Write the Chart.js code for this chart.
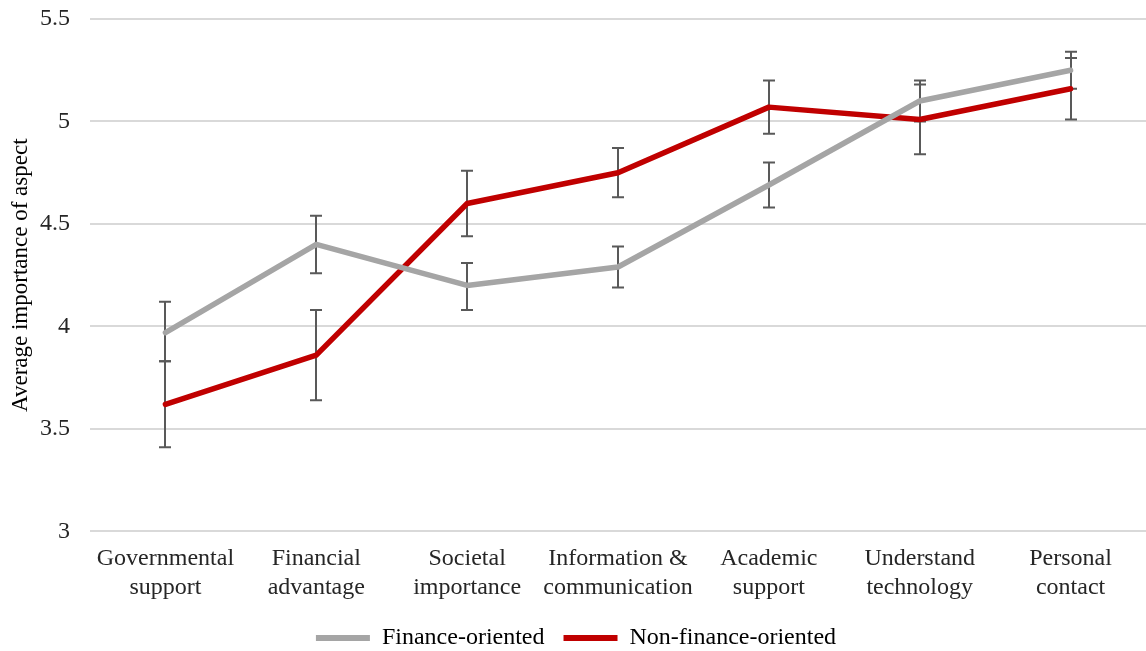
<!DOCTYPE html>
<html>
<head>
<meta charset="utf-8">
<script src="https://cdn.jsdelivr.net/npm/chart.js@4.4.0/dist/chart.umd.min.js"></script>
<style>
  html, body { margin: 0; padding: 0; background: #fff; }
  #wrap { width: 1146px; height: 651px; }
</style>
</head>
<body>
<div id="wrap"><canvas id="chart" width="1146" height="651"></canvas></div>
<script>
// Catégories (libellés sur deux lignes)
const categories = [
    ["Governmental", "support"],
    ["Financial", "advantage"],
    ["Societal", "importance"],
    ["Information &", "communication"],
    ["Academic", "support"],
    ["Understand", "technology"],
    ["Personal", "contact"]
];

// Moyennes
const financeValues = [3.97, 4.40, 4.20, 4.29, 4.69, 5.10, 5.25];
const nonFinanceValues = [3.62, 3.86, 4.60, 4.75, 5.07, 5.01, 5.16];

// Barres d'erreur (bas / haut)
const financeLow = [3.83, 4.26, 4.08, 4.19, 4.58, 5.00, 5.16];
const financeHigh = [4.12, 4.54, 4.31, 4.39, 4.80, 5.20, 5.34];
const nonFinanceLow = [3.41, 3.64, 4.44, 4.63, 4.94, 4.84, 5.01];
const nonFinanceHigh = [3.83, 4.08, 4.76, 4.87, 5.20, 5.18, 5.31];

const yTicks = [3, 3.5, 4, 4.5, 5, 5.5];

const font = "'Liberation Serif', 'Times New Roman', serif";

// Plugin pour dessiner les barres d'erreur
const errorBars = {
    id: "errorBars",
    beforeDatasetsDraw(chart) {
        const c = chart.ctx;
        const x = chart.scales.x;
        const y = chart.scales.y;
        const sets = [[financeLow, financeHigh], [nonFinanceLow, nonFinanceHigh]];
        c.save();
        c.strokeStyle = "#595959";
        c.lineWidth = 2;
        sets.forEach(([low, high]) => {
            low.forEach((lo, i) => {
                const px = Math.round(x.getPixelForValue(i));
                const yLo = y.getPixelForValue(lo);
                const yHi = y.getPixelForValue(high[i]);
                c.beginPath();
                c.moveTo(px, yLo);
                c.lineTo(px, yHi);
                c.moveTo(px - 6, yLo);
                c.lineTo(px + 6, yLo);
                c.moveTo(px - 6, yHi);
                c.lineTo(px + 6, yHi);
                c.stroke();
            });
        });
        c.restore();
    }
};

const config = {
    type: "line",
    data: {
        labels: categories,
        datasets: [
            {
                label: "Finance-oriented",
                data: financeValues,
                borderColor: "#a5a5a5",
                backgroundColor: "#a5a5a5",
                borderWidth: 5.5,
                pointRadius: 0,
                borderCapStyle: "round",
                borderJoinStyle: "round",
                tension: 0
            },
            {
                label: "Non-finance-oriented",
                data: nonFinanceValues,
                borderColor: "#c00000",
                backgroundColor: "#c00000",
                borderWidth: 5.5,
                pointRadius: 0,
                borderCapStyle: "round",
                borderJoinStyle: "round",
                tension: 0
            }
        ]
    },
    options: {
        responsive: false,
        animation: false,
        layout: { padding: { top: 0, right: -6, bottom: -9, left: 0 } },
        plugins: {
            tooltip: { enabled: false },
            legend: {
                position: "bottom",
                labels: {
                    font: { family: font, size: 24 },
                    color: "#000",
                    boxWidth: 54,
                    boxHeight: 6,
                    padding: 19,
                    // pas de contour autour des carrés de légende
                    generateLabels: function (chart) {
                        const original = Chart.defaults.plugins.legend.labels.generateLabels;
                        const items = original.call(this, chart);
                        items.forEach((item) => { item.lineWidth = 0; });
                        return items;
                    }
                }
            }
        },
        scales: {
            x: {
                offset: true,
                grid: { display: false },
                border: { display: false },
                ticks: {
                    font: { family: font, size: 24, lineHeight: 1.2 },
                    color: "#262626",
                    maxRotation: 0,
                    autoSkip: false,
                    padding: 5
                }
            },
            y: {
                min: 3,
                max: 5.5,
                afterBuildTicks: (axis) => { axis.ticks = yTicks.map(v => ({ value: v })); },
                afterFit: (axis) => {
                    axis.width = 90;
                    axis.paddingTop = 19;
                    axis.paddingBottom = 0;
                },
                grid: { color: "#d9d9d9", lineWidth: 2, drawTicks: false },
                border: { display: false },
                ticks: {
                    font: { family: font, size: 24 },
                    color: "#262626",
                    padding: 20,
                    callback: (v) => String(v)
                },
                title: {
                    display: true,
                    text: "Average importance of aspect",
                    font: { family: font, size: 23 },
                    color: "#000",
                    padding: { top: 7, bottom: 0 }
                }
            }
        }
    },
    plugins: [errorBars]
};

const chart = new Chart(document.getElementById("chart"), config);
</script>
</body>
</html>
